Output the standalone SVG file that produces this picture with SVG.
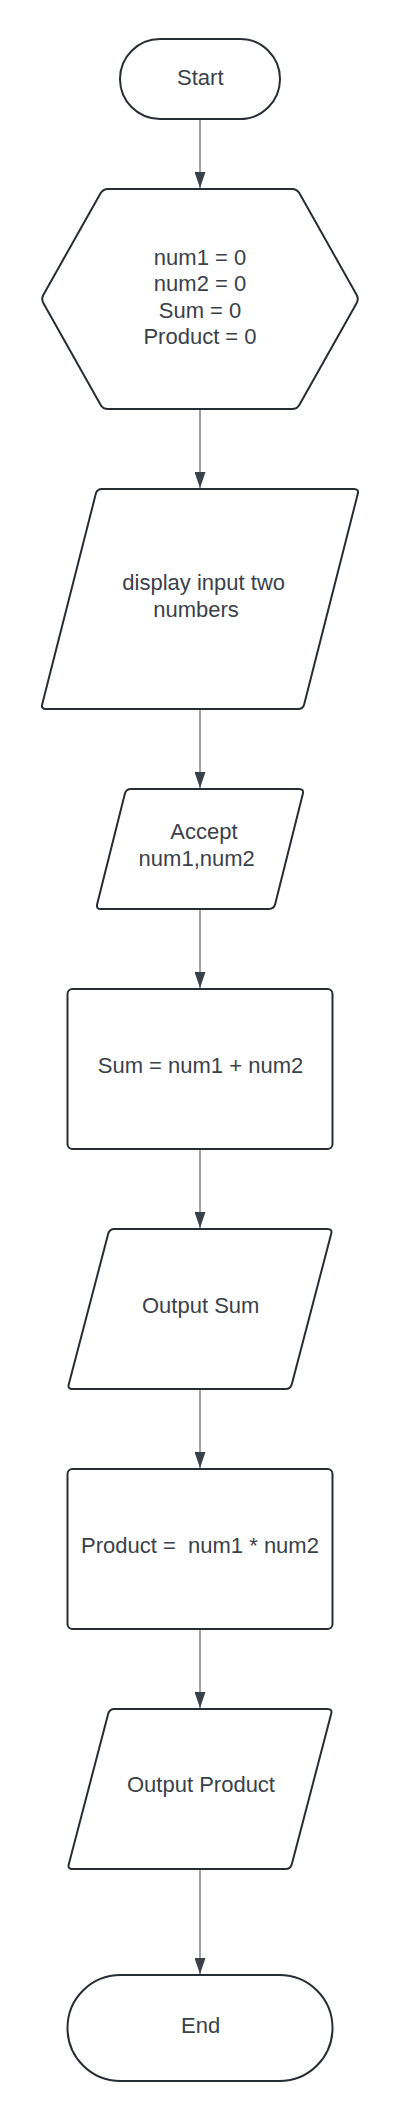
<svg xmlns="http://www.w3.org/2000/svg" width="400" height="2123" viewBox="0 0 400 2123">
  <style>
    .shape { fill: #ffffff; stroke: #282c33; stroke-width: 2; }
    .conn { stroke: #3a414a; stroke-width: 1; fill: none; }
    .lbl { font-family: "Liberation Sans", Arial, sans-serif; font-size: 22px; fill: #3a414a; text-anchor: middle; }
  </style>
  <defs>
    <marker id="arrow" markerUnits="userSpaceOnUse" markerWidth="16" markerHeight="11" viewBox="0 0 16 11" refX="16" refY="5.5" orient="auto">
      <path d="M0,0 L16,5.5 L0,11 Z" fill="#3a414a"/>
    </marker>
  </defs>
  <rect width="400" height="2123" fill="#ffffff"/>

  <g id="connectors">
    <line class="conn" x1="200" y1="119" x2="200" y2="188" marker-end="url(#arrow)"/>
    <line class="conn" x1="200" y1="409" x2="200" y2="488" marker-end="url(#arrow)"/>
    <line class="conn" x1="200" y1="709" x2="200" y2="788" marker-end="url(#arrow)"/>
    <line class="conn" x1="200" y1="909" x2="200" y2="988" marker-end="url(#arrow)"/>
    <line class="conn" x1="200" y1="1149" x2="200" y2="1228" marker-end="url(#arrow)"/>
    <line class="conn" x1="200" y1="1389" x2="200" y2="1468" marker-end="url(#arrow)"/>
    <line class="conn" x1="200" y1="1629" x2="200" y2="1708" marker-end="url(#arrow)"/>
    <line class="conn" x1="200" y1="1869" x2="200" y2="1974" marker-end="url(#arrow)"/>
  </g>

  <g id="start">
    <rect class="shape" x="120" y="39" width="160" height="80" rx="40" ry="40"/>
    <text class="lbl" x="200.3" y="85">Start</text>
  </g>

  <g id="init">
    <path class="shape" d="M108,189 L292,189 Q297,189 299.45,193.35 L356.55,294.65 Q359,299 356.55,303.35 L299.45,404.65 Q297,409 292,409 L108,409 Q103,409 100.55,404.65 L43.45,303.35 Q41,299 43.45,294.65 L100.55,193.35 Q103,189 108,189 Z"/>
    <text class="lbl" x="200" y="265">num1 = 0</text>
    <text class="lbl" x="200" y="291.4">num2 = 0</text>
    <text class="lbl" x="200" y="317.8">Sum = 0</text>
    <text class="lbl" x="200" y="344.2">Product = 0</text>
  </g>

  <g id="display">
    <path class="shape" d="M102,489 L354,489 Q359,489 357.8,493.8 L304.2,704.2 Q303,709 298,709 L46,709 Q41,709 42.2,704.2 L95.8,493.8 Q97,489 102,489 Z"/>
    <text class="lbl" x="203.7" y="590">display input two</text>
    <text class="lbl" x="196" y="616.7">numbers</text>
  </g>

  <g id="accept">
    <path class="shape" d="M131,789 L299,789 Q304,789 302.8,793.9 L275.2,904.1 Q274,909 269,909 L101,909 Q96,909 97.2,904.1 L124.8,793.9 Q126,789 131,789 Z"/>
    <text class="lbl" x="204" y="839">Accept</text>
    <text class="lbl" x="196.7" y="865.7">num1,num2</text>
  </g>

  <g id="sum">
    <rect class="shape" x="67.5" y="989" width="265" height="160" rx="5" ry="5"/>
    <text class="lbl" x="200.5" y="1072.7">Sum = num1 + num2</text>
  </g>

  <g id="output-sum">
    <path class="shape" d="M114.5,1229 L327.5,1229 Q332.5,1229 331.2,1233.8 L291.8,1384.2 Q290.5,1389 285.5,1389 L72.5,1389 Q67.5,1389 68.8,1384.2 L108.2,1233.8 Q109.5,1229 114.5,1229 Z"/>
    <text class="lbl" x="200.7" y="1312.7">Output Sum</text>
  </g>

  <g id="product">
    <rect class="shape" x="67.5" y="1469" width="265" height="160" rx="5" ry="5"/>
    <text class="lbl" x="200" y="1552.7" xml:space="preserve">Product =  num1 * num2</text>
  </g>

  <g id="output-product">
    <path class="shape" d="M114.5,1709 L327.5,1709 Q332.5,1709 331.2,1713.8 L291.8,1864.2 Q290.5,1869 285.5,1869 L72.5,1869 Q67.5,1869 68.8,1864.2 L108.2,1713.8 Q109.5,1709 114.5,1709 Z"/>
    <text class="lbl" x="201" y="1792.3">Output Product</text>
  </g>

  <g id="end">
    <rect class="shape" x="67.5" y="1975" width="265" height="106" rx="53" ry="53"/>
    <text class="lbl" x="200.7" y="2033.3">End</text>
  </g>
</svg>
